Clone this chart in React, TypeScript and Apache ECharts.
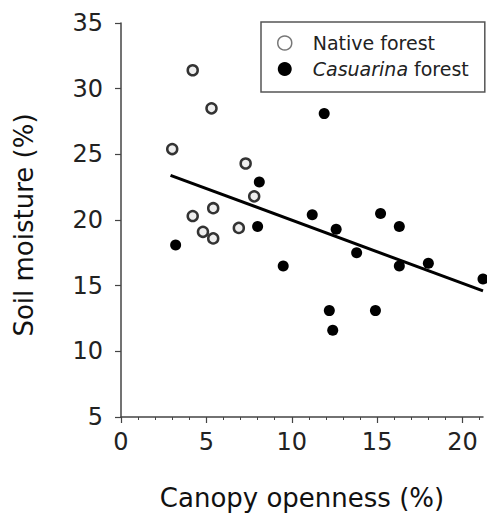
import React, { useEffect, useRef } from "react";
import * as echarts from "echarts";

const nativeX = [3.0, 4.2, 5.3, 7.3, 7.8, 5.4, 4.2, 4.8, 5.4, 6.9];
const nativeY = [25.4, 31.4, 28.5, 24.3, 21.8, 20.9, 20.3, 19.1, 18.6, 19.4];

const casuarinaX = [3.2, 8.1, 8.0, 9.5, 11.2, 11.9, 12.2, 12.4, 12.6, 13.8, 14.9, 15.2, 16.3, 16.3, 18.0, 21.2];
const casuarinaY = [18.1, 22.9, 19.5, 16.5, 20.4, 28.1, 13.1, 11.6, 19.3, 17.5, 13.1, 20.5, 19.5, 16.5, 16.7, 15.5];

const trendX = [2.9, 21.2];
const trendY = [23.4, 14.6];

const xMajorTicks = [0, 5, 10, 15, 20];
const xMinorTicks = [0, 1, 2, 3, 4, 5, 6, 7, 8, 9, 10, 11, 12, 13, 14, 15, 16, 17, 18, 19, 20, 21];

const FONT = "DejaVu Sans";

export default function App() {
  const ref = useRef<HTMLDivElement>(null);
  useEffect(() => {
    if (!ref.current) return;
    const chart = echarts.init(ref.current, undefined, { renderer: "svg" });
    const zip = (xs: number[], ys: number[]) => xs.map((x, i) => [x, ys[i]]);
    chart.setOption({
      animation: false,
      backgroundColor: "#fff",
      grid: { left: 121, right: 4, top: 23, bottom: 99, containLabel: false, outerBoundsMode: "none" },
      legend: {
        orient: "vertical",
        left: 261,
        top: 22,
        padding: [11, 16, 13, 16],
        itemWidth: 14,
        itemHeight: 14,
        itemGap: 6,
        borderColor: "#555",
        borderWidth: 1.5,
        backgroundColor: "#fff",
        textStyle: {
          fontFamily: FONT,
          fontSize: 19,
          color: "#222",
          lineHeight: 20,
          rich: {
            s: { width: 16, lineHeight: 20 },
            n: { fontFamily: FONT, fontSize: 19, color: "#222", lineHeight: 20 },
            i: { fontFamily: FONT, fontSize: 19, fontStyle: "italic", color: "#222", lineHeight: 20 },
          },
        },
        formatter: (name: string) =>
          name === "Casuarina forest" ? "{s|}{i|Casuarina}{n| forest}" : "{s|}{n|" + name + "}",
        data: [
          { name: "Native forest", icon: "circle", itemStyle: { color: "#fff", borderColor: "#777", borderWidth: 1.5 } },
          { name: "Casuarina forest", icon: "circle", itemStyle: { color: "#000", borderWidth: 0 } },
        ],
      },
      xAxis: [
        {
          type: "value",
          min: 0,
          max: 21.2,
          interval: 5,
          name: "Canopy openness (%)",
          nameLocation: "middle",
          nameGap: 68,
          nameTextStyle: { fontFamily: FONT, fontSize: 26, color: "#111" },
          axisLine: { show: true, onZero: false, lineStyle: { color: "#444", width: 1.5 } },
          axisTick: { show: true, length: 6, customValues: xMajorTicks, lineStyle: { color: "#444", width: 1.2 } },
          axisLabel: {
            customValues: xMajorTicks,
            margin: 13,
            fontFamily: FONT,
            fontSize: 24,
            color: "#222",
          },
          splitLine: { show: false },
        },
        {
          type: "value",
          min: 0,
          max: 21.2,
          interval: 1,
          position: "bottom",
          axisLine: { show: false },
          axisTick: { show: true, length: 3, customValues: xMinorTicks, lineStyle: { color: "#444", width: 1 } },
          axisLabel: { show: false },
          splitLine: { show: false },
        },
      ],
      yAxis: {
        type: "value",
        min: 5,
        max: 35,
        interval: 5,
        name: "Soil moisture (%)",
        nameLocation: "middle",
        nameGap: 84,
        nameRotate: 90,
        nameTextStyle: { fontFamily: FONT, fontSize: 26, color: "#111", padding: [0, 10, 0, 0] },
        axisLine: { show: true, lineStyle: { color: "#444", width: 1.5 } },
        axisTick: { show: true, length: 6, lineStyle: { color: "#444", width: 1.2 } },
        axisLabel: { margin: 18, fontFamily: FONT, fontSize: 24, color: "#222" },
        splitLine: { show: false },
      },
      series: [
        {
          name: "Native forest",
          type: "scatter",
          xAxisIndex: 0,
          symbol: "circle",
          symbolSize: 10,
          clip: false,
          itemStyle: { color: "#eee", borderColor: "#333", borderWidth: 2.5, opacity: 1 },
          data: zip(nativeX, nativeY),
          z: 3,
        },
        {
          name: "Casuarina forest",
          type: "scatter",
          xAxisIndex: 0,
          symbol: "circle",
          symbolSize: 11,
          clip: false,
          itemStyle: { color: "#000", opacity: 1 },
          data: zip(casuarinaX, casuarinaY),
          z: 3,
        },
        {
          name: "trend",
          type: "line",
          xAxisIndex: 0,
          showSymbol: false,
          symbol: "none",
          lineStyle: { color: "#000", width: 3 },
          data: zip(trendX, trendY),
          z: 2,
          silent: true,
        },
      ],
    });
    return () => chart.dispose();
  }, []);
  return (
    <div
      ref={ref}
      style={{ position: "fixed", left: 0, top: 0, width: 487, height: 516 }}
    />
  );
}
